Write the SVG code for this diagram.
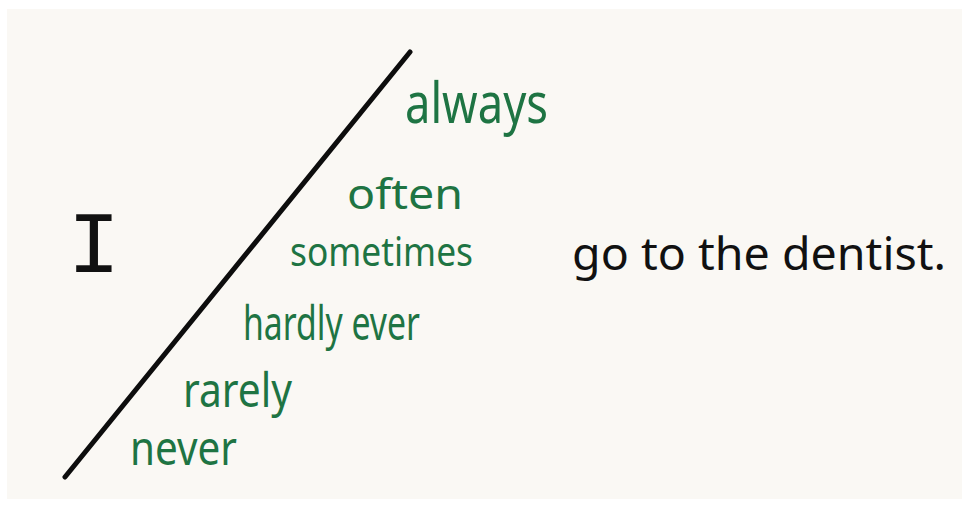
<svg xmlns="http://www.w3.org/2000/svg" width="968" height="511" viewBox="0 0 968 511">
  <style>
    .g { fill: #1e7443; font-family: "Noto Sans", "Liberation Sans", sans-serif; }
    .k { fill: #111111; font-family: "Noto Sans", "Liberation Sans", sans-serif; }
  </style>
  <rect x="0" y="0" width="968" height="511" fill="#ffffff"/>
  <rect x="7" y="9" width="955" height="490" fill="#faf8f4"/>
  <g id="connectors">
    <line x1="65" y1="477" x2="410" y2="52" stroke="#0d0d0d" stroke-width="5" stroke-linecap="round"/>
  </g>
  <g id="subject">
    <text x="94" y="272" text-anchor="middle" font-family="Liberation Mono, monospace" font-size="88" fill="#111">I</text>
  </g>
  <g id="always"><text class="g" x="405" y="123" font-size="56" textLength="143" lengthAdjust="spacingAndGlyphs">always</text></g>
  <g id="often"><text class="g" x="347" y="209" font-size="42" textLength="116" lengthAdjust="spacingAndGlyphs">often</text></g>
  <g id="sometimes"><text class="g" x="290" y="266" font-size="40" textLength="183" lengthAdjust="spacingAndGlyphs">sometimes</text></g>
  <g id="hardly-ever"><text class="g" x="243" y="340" font-size="48" textLength="177" lengthAdjust="spacingAndGlyphs">hardly ever</text></g>
  <g id="rarely"><text class="g" x="183" y="407" font-size="48" textLength="109" lengthAdjust="spacingAndGlyphs">rarely</text></g>
  <g id="never"><text class="g" x="130" y="465" font-size="48" textLength="107" lengthAdjust="spacingAndGlyphs">never</text></g>
  <g id="predicate"><text class="k" x="572" y="270" font-size="46" textLength="374" lengthAdjust="spacingAndGlyphs">go to the dentist.</text></g>
</svg>
